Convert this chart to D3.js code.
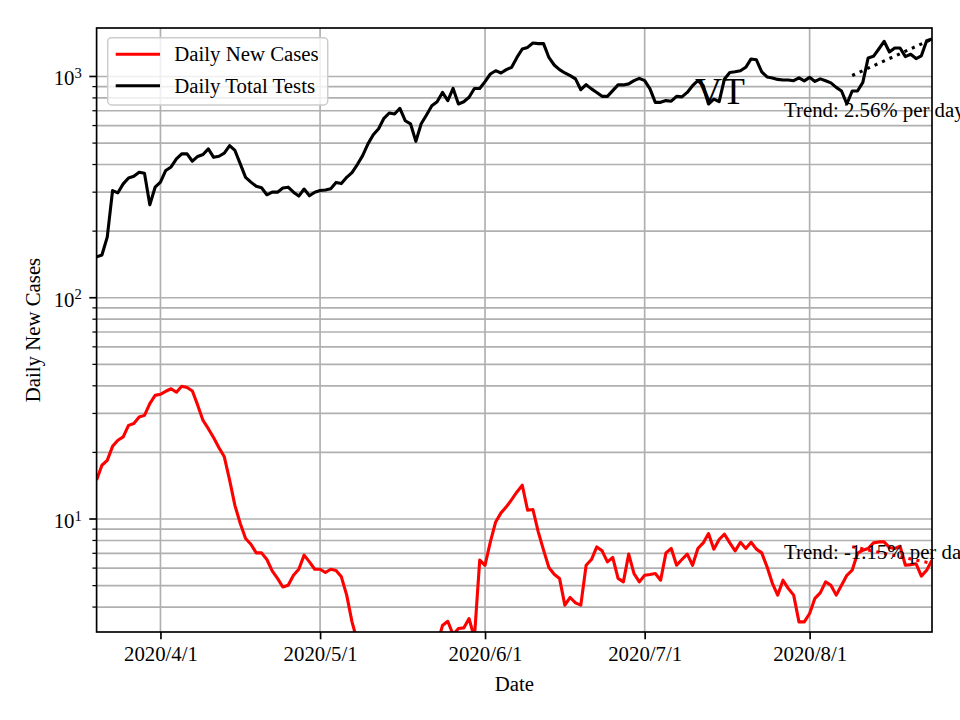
<!DOCTYPE html>
<html><head><meta charset="utf-8">
<script src="https://cdn.jsdelivr.net/npm/d3@7"></script>
<style>
body{margin:0;background:#fff}
text{font-family:"Liberation Serif","Times New Roman",serif}
</style>
</head><body>
<svg id="chart" width="960" height="720"></svg>
<script>
// ---------------- DATA ----------------
const startDate = "2020-03-20"; // one value per consecutive day
const dailyTests = [
  153,156,188,305,298,327,348,354,369,365,
  263,316,333,376,390,424,447,447,414,435,
  444,471,431,436,450,487,463,403,350,333,
  319,314,292,300,300,313,316,300,288,310,
  289,300,305,307,311,332,328,350,368,400,
  439,496,545,580,647,684,677,718,631,611,
  509,611,670,738,769,847,778,883,751,769,
  805,883,883,948,1026,1062,1037,1074,1100,1219,
  1331,1353,1416,1408,1408,1219,1127,1074,1037,1009,
  975,871,918,879,847,813,813,863,916,916,
  926,957,980,957,879,764,764,778,773,813,
  809,847,908,957,908,751,790,770,975,1043,
  1050,1062,1100,1200,1190,1050,995,985,970,964,
  964,957,985,955,991,950,975,957,935,893,
  860,751,860,860,940,1213,1233,1331,1442,1290,
  1345,1345,1230,1260,1205,1240,1450,1477
];
const dailyCases = [
  15.0,17.5,18.4,21.3,22.7,23.5,26.5,27.0,28.9,29.4,
  33.2,36.2,36.6,37.8,38.8,37.4,39.8,39.3,37.9,32.7,
  27.9,25.6,23.3,21.0,19.1,15.0,11.5,9.55,8.16,7.69,
  7.03,7.03,6.56,5.83,5.39,4.93,5.02,5.57,5.93,6.87,
  6.40,5.93,5.93,5.73,5.93,5.85,5.48,4.53,3.43,2.8,
  2.5,2.2,2.0,1.8,1.6,1.7,1.5,1.4,1.6,1.8,
  2.0,1.9,2.1,2.3,2.7,3.3,3.45,3.0,3.2,3.22,
  3.55,2.9,6.52,6.18,7.88,9.70,10.66,11.35,12.24,13.25,
  14.21,10.96,11.04,8.75,7.23,6.04,5.63,5.39,4.08,4.42,
  4.18,4.08,6.18,6.56,7.48,7.18,6.40,6.70,5.39,5.20,
  6.94,5.67,5.20,5.57,5.61,5.67,5.29,7.03,7.36,6.18,
  6.56,6.94,6.18,7.36,7.80,8.60,7.31,8.08,8.54,7.80,
  7.18,7.85,7.36,7.85,7.31,7.03,6.08,5.12,4.53,5.29,
  4.85,4.53,3.43,3.43,3.74,4.38,4.64,5.20,5.02,4.53,
  5.02,5.57,5.87,6.99,7.23,7.36,7.80,7.88,7.88,7.43,
  7.36,7.53,6.18,6.22,6.28,5.52,5.87,6.52
];
const seriesNames = ["Daily New Cases", "Daily Total Tests"];
const seriesColors = ["#ff0000", "#000000"];
const trendDates = ["2020-08-09", "2020-08-24"];
const trendTests = [1010, 1475];
const trendCases = [7.5, 6.3];
const trendLabels = ["Trend: 2.56% per day", "Trend: -1.15% per day"];
const stateLabel = "VT";
const xTickDates = ["2020-04-01","2020-05-01","2020-06-01","2020-07-01","2020-08-01"];
const xTickLabels = ["2020/4/1","2020/5/1","2020/6/1","2020/7/1","2020/8/1"];
const yMajorTicks = [10, 100, 1000];
const yMajorExps = ["1", "2", "3"];
const xDomain = ["2020-03-20", "2020-08-24"];
const yDomain = [3.086, 1656];
const xLabel = "Date", yLabel = "Daily New Cases";

// ---------------- CHART ----------------
const svg = d3.select("#chart");
const L = 96.6, R = 932, T = 28, B = 632;
const FS = 20.8;
const parse = d3.utcParse("%Y-%m-%d");
const x = d3.scaleUtc().domain(xDomain.map(parse)).range([L, R]);
const y = d3.scaleLog().domain(yDomain).range([B, T]);
const dates = dailyTests.map((_, i) => d3.utcDay.offset(parse(startDate), i));

svg.append("defs").append("clipPath").attr("id", "clip")
  .append("rect").attr("x", L).attr("y", T).attr("width", R - L).attr("height", B - T);

// grid
const grid = svg.append("g");
const allY = y.ticks().filter(v => v >= yDomain[0] && v <= yDomain[1]);
grid.selectAll("line.h").data(allY).join("line")
  .attr("x1", L).attr("x2", R).attr("y1", d => y(d)).attr("y2", d => y(d))
  .attr("stroke", "#b0b0b0").attr("stroke-width", 1.67);
grid.selectAll("line.v").data(xTickDates.map(parse)).join("line")
  .attr("y1", T).attr("y2", B).attr("x1", d => x(d)).attr("x2", d => x(d))
  .attr("stroke", "#b0b0b0").attr("stroke-width", 1.67);

// lines
const plot = svg.append("g").attr("clip-path", "url(#clip)");
const line = d3.line().x((d, i) => x(dates[i])).y(d => y(d));
plot.append("path").datum(dailyCases).attr("d", line)
  .attr("fill", "none").attr("stroke", seriesColors[0]).attr("stroke-width", 3.1).attr("stroke-linejoin", "round");
plot.append("path").datum(dailyTests).attr("d", line)
  .attr("fill", "none").attr("stroke", seriesColors[1]).attr("stroke-width", 3.1).attr("stroke-linejoin", "round");
const tline = d3.line().x((d, i) => x(parse(trendDates[i]))).y(d => y(d));
plot.append("path").datum(trendTests).attr("d", tline)
  .attr("fill", "none").attr("stroke", "#000").attr("stroke-width", 3.1).attr("stroke-dasharray", "3.1,5.1");
plot.append("path").datum(trendCases).attr("d", tline)
  .attr("fill", "none").attr("stroke", "#ff0000").attr("stroke-width", 3.1).attr("stroke-dasharray", "3.1,5.1");

// x axis
const xAxis = d3.axisBottom(x).tickValues(xTickDates.map(parse))
  .tickFormat((d, i) => xTickLabels[i]).tickSize(7.3).tickPadding(7.3);
const gx = svg.append("g").attr("transform", `translate(0,${B})`).call(xAxis);
gx.select(".domain").remove();
gx.selectAll("line").attr("stroke", "#000").attr("stroke-width", 1.67);
gx.selectAll("text").attr("font-size", FS).attr("font-family", '"Liberation Serif","Times New Roman",serif').attr("fill", "#000");

// y axis ticks
const gy = svg.append("g");
gy.selectAll("line.minor").data(allY.filter(v => !yMajorTicks.includes(v))).join("line")
  .attr("x1", L - 4.2).attr("x2", L).attr("y1", d => y(d)).attr("y2", d => y(d))
  .attr("stroke", "#000").attr("stroke-width", 1.25);
gy.selectAll("line.major").data(yMajorTicks).join("line")
  .attr("x1", L - 7.3).attr("x2", L).attr("y1", d => y(d)).attr("y2", d => y(d))
  .attr("stroke", "#000").attr("stroke-width", 1.67);
const yl = gy.selectAll("text.yl").data(yMajorTicks).join("text")
  .attr("x", L - 14.8).attr("y", d => y(d) + 9).attr("text-anchor", "end")
  .attr("font-size", FS).attr("fill", "#000");
yl.append("tspan").text("10");
yl.append("tspan").attr("font-size", 14.6).attr("dy", -7.5).text((d, i) => yMajorExps[i]);

// frame
svg.append("rect").attr("x", L).attr("y", T).attr("width", R - L).attr("height", B - T)
  .attr("fill", "none").attr("stroke", "#000").attr("stroke-width", 1.67);

// axis labels
svg.append("text").attr("x", (L + R) / 2).attr("y", 691).attr("text-anchor", "middle")
  .attr("font-size", FS).text(xLabel);
svg.append("text").attr("transform", `translate(40,${(T + B) / 2}) rotate(-90)`)
  .attr("text-anchor", "middle").attr("font-size", FS).text(yLabel);

// annotations
svg.append("text").attr("x", 720).attr("y", 104).attr("text-anchor", "middle")
  .attr("font-size", 37.5).text(stateLabel);
svg.append("text").attr("x", 784).attr("y", 117).attr("font-size", FS).text(trendLabels[0]);
svg.append("text").attr("x", 784).attr("y", 558.5).attr("font-size", FS).text(trendLabels[1]);

// legend
const lg = svg.append("g");
lg.append("rect").attr("x", 107.7).attr("y", 37.7).attr("width", 220).attr("height", 67.3)
  .attr("rx", 4).attr("fill", "#fff").attr("fill-opacity", 0.8).attr("stroke", "#cccccc").attr("stroke-width", 1.5);
[54.3, 85.7].forEach((ly, i) => {
  lg.append("line").attr("x1", 115.7).attr("x2", 160).attr("y1", ly).attr("y2", ly)
    .attr("stroke", seriesColors[i]).attr("stroke-width", 3.1);
  lg.append("text").attr("x", 174.3).attr("y", ly + 7).attr("font-size", FS).text(seriesNames[i]);
});
</script>
</body></html>
